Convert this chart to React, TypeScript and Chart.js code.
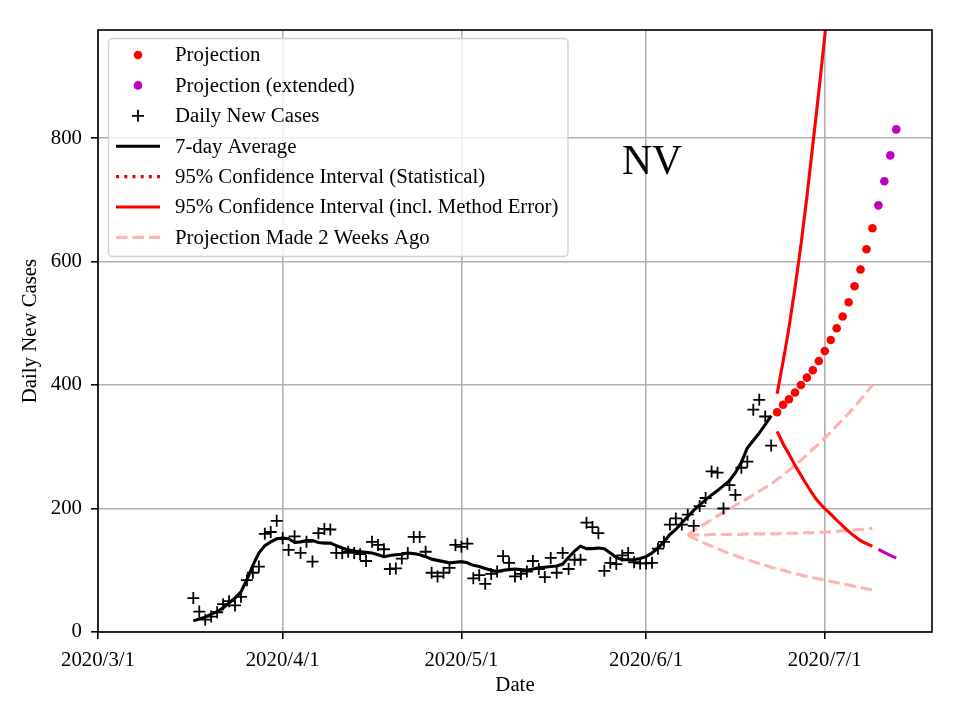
import React, { useEffect, useRef } from "react";
import { Chart, registerables } from "chart.js";

Chart.register(...registerables);

// ---------- data ----------
const AXIS_START = "2020-03-01";
const AXIS_END = "2020-07-19";
const X_TICK_DATES = ["2020-03-01", "2020-04-01", "2020-05-01", "2020-06-01", "2020-07-01"];
const X_TICK_LABELS = ["2020/3/1", "2020/4/1", "2020/5/1", "2020/6/1", "2020/7/1"];
const Y_TICKS = [0, 200, 400, 600, 800];
const Y_MAX = 975;

const STATE_LABEL = "NV";

const DAILY_START = "2020-03-17";
const dailyCases = [
  55, 33, 20, 25, 32, 45, 50, 43, 57, 84,
  96, 106, 159, 162, 180, 152, 133, 155, 128, 146,
  114, 160, 167, 166, 128, 128, 130, 128, 126, 115,
  146, 141, 134, 102, 103, 119, 128, 154, 154, 130,
  96, 90, 96, 104, 141, 138, 143, 87, 92, 78,
  94, 98, 123, 112, 90, 94, 98, 115, 102, 89,
  120, 96, 128, 102, 117, 117, 177, 170, 160, 99,
  112, 110, 124, 128, 113, 111, 111, 112, 135, 146,
  174, 184, 174, 190, 172, 204, 217, 260, 258, 200,
  238, 222, 266, 276, 360, 376, 349, 302,
];

const AVG_START = "2020-03-17";
const avgCases = [
  18, 21, 24, 29, 33, 39, 47, 55, 65, 85,
  108, 128, 140, 146, 151, 152, 151, 145, 146, 148,
  148, 145, 144, 144, 140, 136, 133, 131, 130, 129,
  128, 125, 122, 124, 125, 126, 128, 127, 125, 122,
  118, 116, 114, 112, 113, 114, 112, 108, 106, 103,
  100, 98, 100, 101, 102, 101, 100, 102, 104, 105,
  106, 107, 110, 121, 131, 139, 135, 135, 136, 135,
  128, 121, 117, 117, 117, 119, 122, 128, 136, 146,
  158, 166, 177, 187, 197, 206, 214, 222, 229, 237,
  245, 258, 275, 298, 310, 322, 336, 350,
];

const PROJ_START = "2020-06-23";
const projection = [356, 368, 377, 388, 400, 412, 424, 439, 455, 473, 492, 511, 534, 560, 587, 620, 654];
const ciUpper = [386, 438, 494, 557, 627, 705, 790, 875, 965, 1065, 1175, 1295, 1425, 1565, 1720, 1890, 2075];
const ciLower = [325, 305, 288, 270, 254, 238, 223, 210, 200, 191, 181, 172, 163, 155, 148, 143, 139];

const PROJ_EXT_START = "2020-07-10";
const projectionExt = [691, 730, 772, 814];
const ciLowerExt = [134, 129, 124, 120];

const OLD_START = "2020-06-08";
const oldUpper = [
  157, 164, 170, 176, 182, 188, 194, 199, 205, 210, 216, 222, 228, 234, 240, 247,
  254, 262, 270, 278, 287, 296, 305, 314, 324, 334, 344, 354, 365, 376, 388, 400,
];
const oldMiddle = [
  157, 157, 157, 157, 158, 158, 158, 158, 158, 158, 159, 159, 159, 159, 159, 159,
  160, 160, 160, 160, 161, 161, 161, 162, 162, 163, 164, 164, 165, 166, 167, 168,
];
const oldLower = [
  157, 152, 147, 143, 139, 135, 131, 127, 124, 120, 117, 114, 111, 108, 105, 102,
  100, 97, 95, 92, 90, 88, 86, 84, 82, 80, 78, 76, 74, 72, 70, 68,
];

const LABELS = {
  proj: "Projection",
  projExt: "Projection (extended)",
  daily: "Daily New Cases",
  avg: "7-day Average",
  ciStat: "95% Confidence Interval (Statistical)",
  ciFull: "95% Confidence Interval (incl. Method Error)",
  old: "Projection Made 2 Weeks Ago",
};

// ---------- helpers ----------
const toDay = (iso: string) => Math.round((Date.parse(iso) - Date.parse(AXIS_START)) / 86400000);
const series = (startIso: string, values: number[]) => {
  const s = toDay(startIso);
  return values.map((y, i) => ({ x: s + i, y }));
};

const FONT = '"Liberation Serif", "DejaVu Serif", "Times New Roman", serif';
const FS = 20.8;
const RED = "#ff0000";
const MAGENTA = "#bf00bf";
const PINK = "#ffb3b3";
const GRID = "#b0b0b0";

type LegendKind = "dot" | "cross" | "line";
const legendEntries: { label: string; kind: LegendKind; color: string; dash?: number[] }[] = [
  { label: LABELS.proj, kind: "dot", color: RED },
  { label: LABELS.projExt, kind: "dot", color: MAGENTA },
  { label: LABELS.daily, kind: "cross", color: "#000000" },
  { label: LABELS.avg, kind: "line", color: "#000000" },
  { label: LABELS.ciStat, kind: "line", color: RED, dash: [3.1, 5.1] },
  { label: LABELS.ciFull, kind: "line", color: RED },
  { label: LABELS.old, kind: "line", color: PINK, dash: [11.5, 5] },
];

const overlayPlugin = {
  id: "overlay",
  afterDraw(chart: any) {
    const { ctx, chartArea } = chart;
    const { left, right, top, bottom } = chartArea;
    ctx.save();
    // frame
    ctx.strokeStyle = "#000";
    ctx.lineWidth = 1.6;
    ctx.setLineDash([]);
    ctx.strokeRect(left, top, right - left, bottom - top);

    // state label
    ctx.fillStyle = "#000";
    ctx.font = `41.7px ${FONT}`;
    ctx.textAlign = "center";
    ctx.textBaseline = "middle";
    const xs = chart.scales.x;
    const ys = chart.scales.y;
    ctx.fillText(STATE_LABEL, xs.getPixelForValue(toDay("2020-06-01")) + 6, ys.getPixelForValue(760));

    // legend
    const bx = left + 10.5;
    const by = top + 8.5;
    const bw = 459.5;
    const bh = 218;
    ctx.beginPath();
    ctx.roundRect(bx, by, bw, bh, 4);
    ctx.fillStyle = "rgba(255,255,255,0.8)";
    ctx.fill();
    ctx.strokeStyle = "rgba(204,204,204,0.9)";
    ctx.lineWidth = 1.4;
    ctx.stroke();

    ctx.font = `${FS}px ${FONT}`;
    ctx.textAlign = "left";
    ctx.textBaseline = "middle";
    const hx0 = left + 18;
    const hx1 = left + 62;
    const hc = (hx0 + hx1) / 2;
    legendEntries.forEach((e, i) => {
      const y = top + 25 + i * 30.4;
      ctx.setLineDash([]);
      if (e.kind === "dot") {
        ctx.beginPath();
        ctx.arc(hc, y, 4.3, 0, Math.PI * 2);
        ctx.fillStyle = e.color;
        ctx.fill();
      } else if (e.kind === "cross") {
        ctx.beginPath();
        ctx.strokeStyle = e.color;
        ctx.lineWidth = 1.8;
        ctx.moveTo(hc - 6, y);
        ctx.lineTo(hc + 6, y);
        ctx.moveTo(hc, y - 6);
        ctx.lineTo(hc, y + 6);
        ctx.stroke();
      } else {
        ctx.beginPath();
        ctx.strokeStyle = e.color;
        ctx.lineWidth = 3.1;
        ctx.setLineDash(e.dash || []);
        ctx.moveTo(hx0, y);
        ctx.lineTo(hx1, y);
        ctx.stroke();
      }
      ctx.setLineDash([]);
      ctx.fillStyle = "#000";
      ctx.fillText(e.label, left + 77, y + 1);
    });
    ctx.restore();
  },
};

export default function App() {
  const canvasRef = useRef<HTMLCanvasElement | null>(null);

  useEffect(() => {
    document.body.style.margin = "0";
    const canvas = canvasRef.current;
    if (!canvas) return;

    const lineDs = (label: string, data: any[], color: string, order: number, extra: any = {}) => ({
      type: "line" as const,
      label,
      data,
      borderColor: color,
      backgroundColor: color,
      borderWidth: 3.1,
      pointRadius: 0,
      pointHoverRadius: 0,
      tension: 0,
      fill: false,
      order,
      ...extra,
    });
    const smooth = { cubicInterpolationMode: "monotone" };

    const chart = new Chart(canvas, {
      type: "line",
      data: {
        datasets: [
          {
            type: "line",
            label: LABELS.proj,
            data: series(PROJ_START, projection),
            showLine: false,
            pointStyle: "circle",
            pointRadius: 4.3,
            pointBorderWidth: 0,
            pointBackgroundColor: RED,
            borderColor: RED,
            order: 0,
          },
          {
            type: "line",
            label: LABELS.projExt,
            data: series(PROJ_EXT_START, projectionExt),
            showLine: false,
            pointStyle: "circle",
            pointRadius: 4.3,
            pointBorderWidth: 0,
            pointBackgroundColor: MAGENTA,
            borderColor: MAGENTA,
            order: 0,
          },
          {
            type: "line",
            label: LABELS.daily,
            data: series(DAILY_START, dailyCases),
            showLine: false,
            pointStyle: "cross",
            pointRadius: 6,
            pointBorderWidth: 1.8,
            pointBorderColor: "#000",
            borderColor: "#000",
            order: 1,
          },
          lineDs(LABELS.avg, series(AVG_START, avgCases), "#000", 2),
          lineDs(LABELS.ciStat, [], RED, 3, { borderDash: [3.1, 5.1] }),
          lineDs(LABELS.ciFull, series(PROJ_START, ciUpper), RED, 3, smooth),
          lineDs(LABELS.ciFull + " lower", series(PROJ_START, ciLower), RED, 3, smooth),
          lineDs(LABELS.projExt + " lower", series(PROJ_EXT_START, ciLowerExt), MAGENTA, 3, smooth),
          lineDs(LABELS.old, series(OLD_START, oldUpper), PINK, 4, { borderDash: [11.5, 5], ...smooth }),
          lineDs(LABELS.old + " mid", series(OLD_START, oldMiddle), PINK, 4, { borderDash: [11.5, 5], ...smooth }),
          lineDs(LABELS.old + " low", series(OLD_START, oldLower), PINK, 4, { borderDash: [11.5, 5], ...smooth }),
        ] as any,
      },
      options: {
        animation: false,
        responsive: false,
        devicePixelRatio: 1,
        parsing: false as any,
        layout: { padding: { top: 30, right: 28, left: 0, bottom: 0 } },
        plugins: {
          legend: { display: false },
          tooltip: { enabled: false },
        },
        scales: {
          x: {
            type: "linear",
            min: toDay(AXIS_START),
            max: toDay(AXIS_END),
            afterBuildTicks: (scale: any) => {
              scale.ticks = X_TICK_DATES.map((d) => ({ value: toDay(d) }));
            },
            afterFit: (scale: any) => {
              scale.height = 88;
            },
            ticks: {
              autoSkip: false,
              maxRotation: 0,
              color: "#000",
              padding: 9,
              font: { family: FONT, size: FS },
              callback: (v: any) => {
                const idx = X_TICK_DATES.findIndex((d) => toDay(d) === v);
                return idx >= 0 ? X_TICK_LABELS[idx] : "";
              },
            },
            grid: { color: GRID, lineWidth: 1.6, tickColor: "#000", tickLength: 7, drawTicks: true },
            border: { display: false },
            title: {
              display: true,
              text: "Date",
              color: "#000",
              font: { family: FONT, size: FS },
              padding: { bottom: 22 },
            },
          },
          y: {
            type: "linear",
            min: 0,
            max: Y_MAX,
            afterBuildTicks: (scale: any) => {
              scale.ticks = Y_TICKS.map((v) => ({ value: v }));
            },
            afterFit: (scale: any) => {
              scale.width = 98;
            },
            ticks: {
              color: "#000",
              padding: 9,
              font: { family: FONT, size: FS },
              callback: (v: any) => String(v),
            },
            grid: { color: GRID, lineWidth: 1.6, tickColor: "#000", tickLength: 7, drawTicks: true },
            border: { display: false },
            title: {
              display: true,
              text: "Daily New Cases",
              color: "#000",
              font: { family: FONT, size: FS },
              padding: { top: 18 },
            },
          },
        },
      },
      plugins: [overlayPlugin],
    });

    return () => {
      chart.destroy();
    };
  }, []);

  return (
    <div style={{ width: 960, height: 720 }}>
      <canvas ref={canvasRef} width={960} height={720} style={{ width: 960, height: 720, display: "block" }} />
    </div>
  );
}
